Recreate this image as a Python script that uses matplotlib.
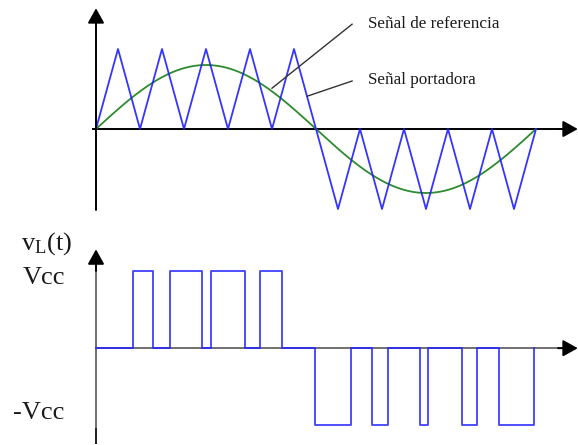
import numpy as np
import matplotlib
matplotlib.use("Agg")
import matplotlib.pyplot as plt

plt.rcParams['font.family'] = ['Liberation Serif', 'DejaVu Serif']
plt.rcParams['mathtext.fontset'] = 'custom'
plt.rcParams['mathtext.rm'] = 'Liberation Serif'
plt.rcParams['mathtext.it'] = 'Liberation Serif:italic'

# carrier (triangle) vertices: time in carrier periods, normalised level
carrier_t = [0, 0.5, 1, 1.5, 2, 2.5, 3, 3.5, 4, 4.5,
             5.5, 6, 6.5, 7, 7.5, 8, 8.5, 9, 9.5, 10]
carrier_v = [0, 1, 0, 1, 0, 1, 0, 1, 0, 1,
             -1, 0, -1, 0, -1, 0, -1, 0, -1, 0]

# reference sine
ref_amp = 0.8
ref_period = 10.0

# output pulses (start, end) at +Vcc and -Vcc
pulses_pos = [(0.85, 1.30), (1.68, 2.40), (2.61, 3.39), (3.73, 4.22)]
pulses_neg = [(4.98, 5.79), (6.27, 6.64), (7.36, 7.55), (8.31, 8.67), (9.17, 9.95)]
t_end = 10.0

BLUE = '#1f1fff'
GREEN = '#2e8b2e'


def axis_arrow(ax, x0, y0, x1, y1, color):
    ax.annotate('', xy=(x1, y1), xytext=(x0, y0),
                arrowprops=dict(arrowstyle='-|>,head_length=0.45,head_width=0.25',
                                mutation_scale=20, lw=1.4, color=color,
                                shrinkA=0, shrinkB=0),
                annotation_clip=False)


fig = plt.figure(figsize=(5.78, 4.45), dpi=100)
xlim = (-96 / 44, 482 / 44)

# --- top: modulation signals ---
ax1 = fig.add_axes([0, 1 - 220 / 445, 1, 220 / 445])
ax1.set_xlim(*xlim)
ax1.set_ylim(-1.1375, 1.6125)
ax1.axis('off')

ax1.plot([-0.07, 10.7], [0, 0], color='black', lw=1.4)
axis_arrow(ax1, 10.5, 0, 10.95, 0, 'black')
axis_arrow(ax1, 0, -1.0125, 0, 1.51, 'black')

t = np.linspace(0, t_end, 600)
ax1.plot(t, ref_amp * np.sin(2 * np.pi * t / ref_period), color=GREEN, lw=1.3)
ax1.plot(carrier_t, carrier_v, color=BLUE, lw=1.3, alpha=0.9)

ax1.plot([4.0, 5.82], [0.51, 1.31], color='#333333', lw=1.0)
ax1.plot([4.80, 5.82], [0.41, 0.60], color='#333333', lw=1.0)
ax1.text(6.18, 1.31, 'Señal de referencia', fontsize=12.3, va='center', ha='left',
         color='#1a1a1a')
ax1.text(6.18, 0.61, 'Señal portadora', fontsize=12.3, va='center', ha='left',
         color='#1a1a1a')

# --- bottom: output voltage ---
ax2 = fig.add_axes([0, 0, 1, 220 / 445])
ax2.set_xlim(*xlim)
ax2.set_ylim(-1.2532, 1.5949)
ax2.axis('off')

ax2.plot([0, 10.7], [0, 0], color='#707070', lw=1.4)
axis_arrow(ax2, 10.5, 0, 10.95, 0, 'black')
ax2.plot([0, 0], [-1.23, 1.1], color='#707070', lw=1.4)
ax2.plot([0, 0], [-1.23, -1.05], color='#222222', lw=1.4)
axis_arrow(ax2, 0, 1.0, 0, 1.28, 'black')

# build the stepped output waveform from the pulse edges
xs, ys = [0.0], [0.0]
for level, pulses in ((1, pulses_pos), (-1, pulses_neg)):
    for a, b in pulses:
        xs += [a, a, b, b]
        ys += [0, level, level, 0]
ax2.plot(xs, ys, color=BLUE, lw=1.3, alpha=0.85)

ax2.text(-1.125, 1.354, r'v$_{\mathrm{L}}$(t)', fontsize=19, ha='center', va='center',
         color='#1a1a1a')
ax2.text(-1.18, 0.91, 'Vcc', fontsize=19, ha='center', va='center', color='#1a1a1a')
ax2.text(-1.30, -0.835, '-Vcc', fontsize=19, ha='center', va='center', color='#1a1a1a')

fig.savefig('out.png', dpi=100)
